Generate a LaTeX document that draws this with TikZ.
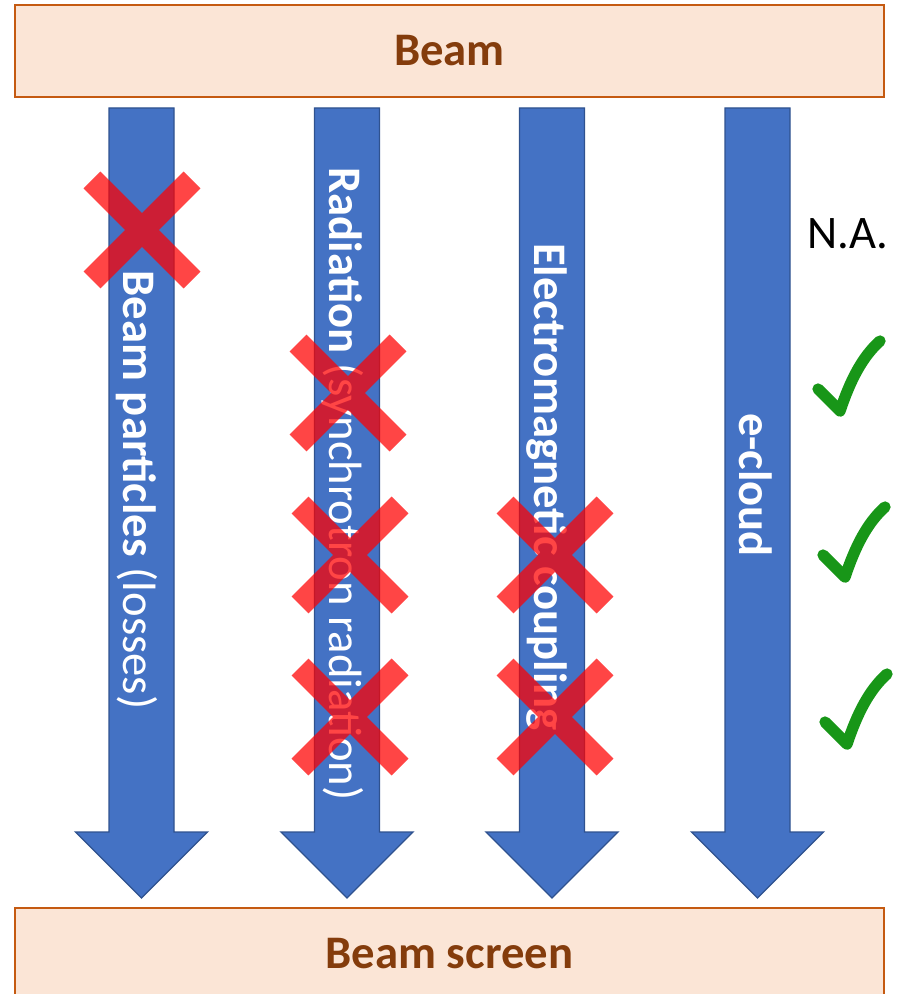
\documentclass[tikz,border=0pt]{standalone}
\usepackage{fontspec}
\setmainfont{Carlito}
\definecolor{cBand}{HTML}{FBE5D6}
\definecolor{cBandLine}{HTML}{C55A11}
\definecolor{cBandText}{HTML}{843C0C}
\definecolor{cFlow}{HTML}{4472C4}
\definecolor{cFlowLine}{HTML}{2F528F}
\definecolor{cNo}{HTML}{FF0000}
\definecolor{cOk}{HTML}{189618}
\tikzset{
  band/.style={draw=cBandLine, fill=cBand, line width=1.5pt, minimum width=651.75pt,
               minimum height=69pt, inner sep=0pt, text=cBandText,
               font=\fontsize{35}{42}\selectfont\bfseries},
  flow/.style={draw=cFlowLine, fill=cFlow, line width=1pt, line join=miter},
  flowtext/.style={text=white, font=\fontsize{35}{42}\selectfont, rotate=-90,
                   anchor=base, inner sep=0pt},
  nogo/.style={draw=cNo, draw opacity=0.73, line width=18pt},
  tick/.style={draw=cOk, line width=8.5pt, line cap=round, line join=round},
}

\begin{document}
\begin{tikzpicture}[x=0.75pt, y=-0.75pt,
   note/.style={font=\fontsize{35}{42}\selectfont, anchor=base, inner sep=0pt}]
  \useasboundingbox (0,0) rectangle (897,994);
  \clip (0,0) rectangle (897,994);
  \node[band] (beam)   at (449.5,51)  {Beam};
  \node[band] (screen) at (449.5,954) {Beam screen};

  \foreach \x in {141.5,347,552,757.5}
    \draw[flow] (\x-32.5,108) -- (\x+32.5,108) -- (\x+32.5,832) -- (\x+66,832)
                -- (\x,898) -- (\x-66,832) -- (\x-32.5,832) -- cycle;

  \node[flowtext] (tloss) at (123.5,490) {\textbf{Beam particles} (losses)};
  \node[flowtext] (trad)  at (329,484)   {\textbf{Radiation} (synchrotron radiation)};
  \node[flowtext] (tem)   at (534,487)   {\textbf{Electromagnetic coupling}};
  \node[flowtext] (tecl)  at (739.5,485) {\textbf{e-cloud}};

  \foreach \cx/\cy in {142/230,348/393,350/555,350/717,555/555,555/717}
    \draw[nogo] (\cx-50,\cy-50) -- (\cx+50,\cy+50) (\cx-50,\cy+50) -- (\cx+50,\cy-50);

  \node[note] (na) at (848,249) {N.A.};
  \foreach \kx/\ky in {840/411,845/577,847/744}
    \draw[tick] (\kx-22,\ky-22) -- (\kx,\ky)
                .. controls (\kx+10,\ky-30) and (\kx+22,\ky-54) .. (\kx+40,\ky-70);
\end{tikzpicture}
\end{document}
